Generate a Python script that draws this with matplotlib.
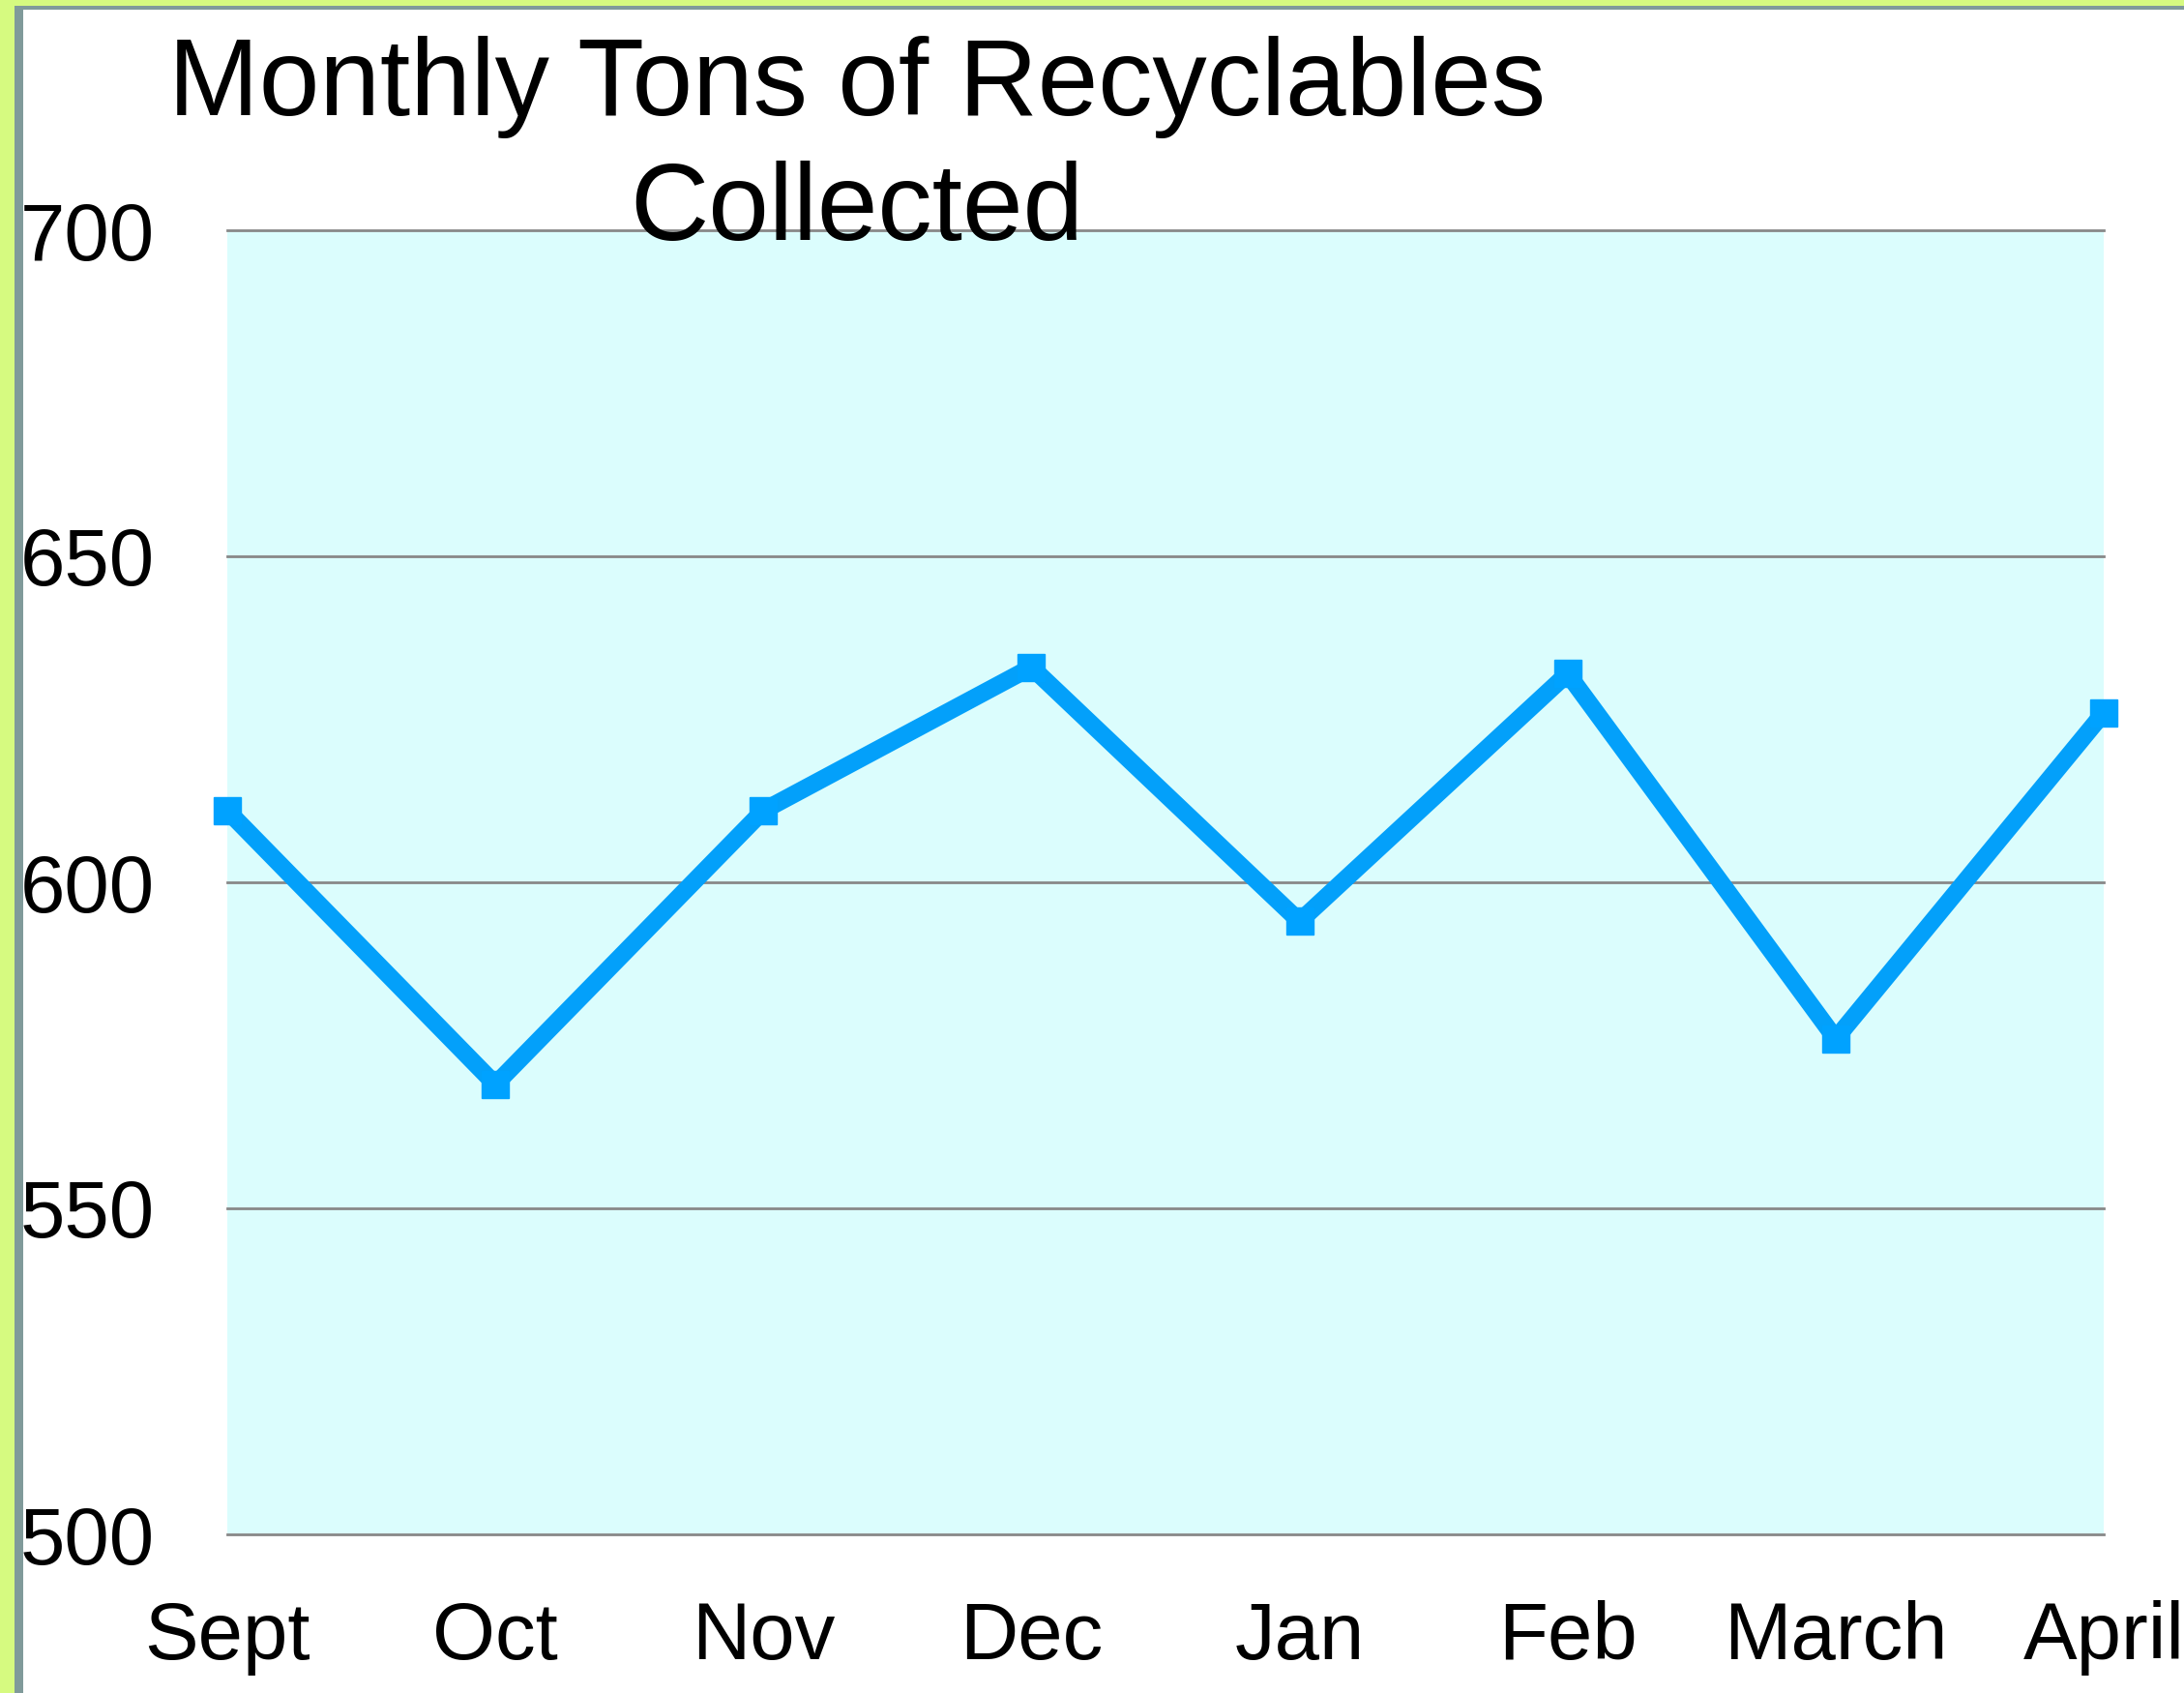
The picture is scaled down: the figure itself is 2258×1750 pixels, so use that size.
import matplotlib
matplotlib.use("Agg")
import matplotlib.pyplot as plt
from matplotlib.patches import Rectangle

months = ["Sept", "Oct", "Nov", "Dec", "Jan", "Feb", "March", "April"]
tons = [611, 569, 611, 633, 594, 632, 576, 626]
yticks = [500, 550, 600, 650, 700]

W, H = 2258, 1750
plt.rcParams['font.family'] = ['Liberation Sans', 'DejaVu Sans']

fig = plt.figure(figsize=(W / 100, H / 100), dpi=100, facecolor='#d6fa80')

# frame: grey edge then white panel
fig.patches.append(Rectangle((15 / W, -0.1), 1.2, 1 - 6 / H + 0.1,
                             transform=fig.transFigure, facecolor='#809a9a',
                             edgecolor='none', zorder=-10))
fig.patches.append(Rectangle((24 / W, -0.1), 1.2, 1 - 10 / H + 0.1,
                             transform=fig.transFigure, facecolor='white',
                             edgecolor='none', zorder=-9))

left, right, top, bottom = 235, 2175, 238, 1586
ax = fig.add_axes([left / W, 1 - bottom / H, (right - left) / W, (bottom - top) / H])
ax.set_zorder(1)
ax.set_facecolor('#dbfdfd')
x = list(range(len(months)))
ax.plot(x, tons, color='#03a0fa', lw=13, marker='s', markersize=20,
        markerfacecolor='#00a2ff', markeredgecolor='#00a2ff', clip_on=False,
        zorder=3, solid_joinstyle='miter')
ax.set_xlim(0, len(months) - 1)
ax.set_ylim(500, 700)
ax.set_yticks(yticks)
ax.set_xticks(x)
ax.set_xticklabels(months)
for s in ax.spines.values():
    s.set_visible(False)
ax.grid(axis='y', color='#888888', lw=2)
ax.set_axisbelow(True)
for gl in ax.get_ygridlines():
    gl.set_clip_on(False)
ax.tick_params(axis='both', length=0, labelsize=60)
ax.tick_params(axis='y', pad=(left - 21) * 72 / 100)
for lab in ax.get_yticklabels():
    lab.set_horizontalalignment('left')
ax.tick_params(axis='x', pad=49)

fig.text(886 / W, 1 - 119 / H, "Monthly Tons of Recyclables", ha='center',
         va='baseline', fontsize=81, zorder=5)
fig.text(886 / W, 1 - 248 / H, "Collected", ha='center', va='baseline',
         fontsize=81, zorder=5)

fig.savefig("out.png", dpi=100, facecolor=fig.get_facecolor())
